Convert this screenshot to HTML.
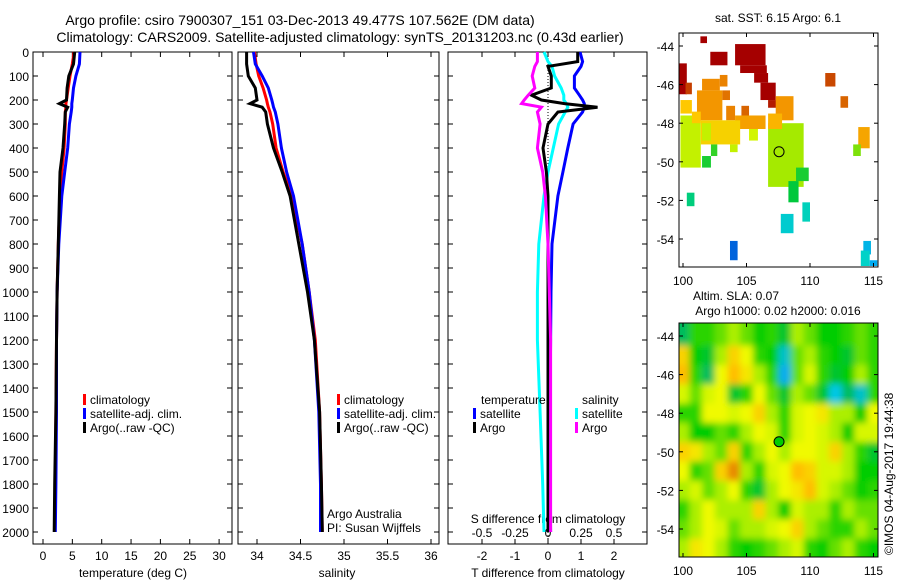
<!DOCTYPE html>
<html><head><meta charset="utf-8"><style>
body{margin:0;background:#fff;}
svg{font-family:"Liberation Sans",sans-serif;}
text{font-size:12px;fill:#000;}
</style></head><body>
<svg id="chart" width="900" height="580" viewBox="0 0 900 580" xmlns="http://www.w3.org/2000/svg">
<defs>
<filter id="blur" x="-5%" y="-5%" width="110%" height="110%"><feGaussianBlur stdDeviation="3.5"/></filter>
<clipPath id="clipSla"><rect x="679" y="323" width="199" height="234"/></clipPath>
<clipPath id="clipSst"><rect x="679" y="33" width="199" height="234"/></clipPath>
</defs>
<text x="300" y="25" text-anchor="middle" style="font-size:14px">Argo profile: csiro 7900307_151 03-Dec-2013 49.477S 107.562E (DM data)</text>
<text x="340" y="42" text-anchor="middle" style="font-size:14px">Climatology: CARS2009. Satellite-adjusted climatology: synTS_20131203.nc (0.43d earlier)</text>
<g id="g"></g>
</svg>
<script>
// depth levels (m)
const depths=[0,50,100,150,200,215,230,250,300,400,500,600,800,1000,1200,1500,1800,2000];
const tempClim=[5.3,5.0,4.6,4.3,4.0,3.9,3.9,3.8,3.8,3.6,3.2,2.9,2.6,2.4,2.3,2.2,2.1,2.0];
const tempSat=[6.3,6.2,5.6,5.2,5.0,4.9,4.9,4.8,4.5,4.2,3.7,3.2,2.7,2.4,2.3,2.3,2.2,2.1];
const tempArgo=[5.4,5.2,4.4,4.1,4.0,2.8,4.2,3.8,3.7,3.4,2.9,2.8,2.6,2.4,2.3,2.2,2.0,1.9];
const salClim=[33.97,33.99,34.02,34.07,34.11,34.12,34.13,34.15,34.18,34.22,34.3,34.4,34.52,34.6,34.67,34.72,34.74,34.75];
const salSat=[33.96,33.98,34.06,34.13,34.17,34.18,34.19,34.21,34.24,34.28,34.34,34.42,34.52,34.6,34.66,34.71,34.73,34.73];
const salArgo=[33.88,33.88,33.9,33.98,34.0,33.92,34.06,34.1,34.12,34.19,34.29,34.38,34.48,34.58,34.66,34.72,34.74,34.75];
// differences from climatology
const diffDepths=[0,40,60,100,150,180,200,215,230,250,300,400,500,600,800,1000,1200,1500,1800,2000];
const tDiffSat=[0.97,1.05,1.0,0.8,0.8,0.95,1.05,1.1,1.1,1.05,0.76,0.6,0.45,0.3,0.12,0.09,0.08,0.06,0.06,0.08];
const tDiffArgo=[0.9,0.9,0.0,0.1,0.1,-0.5,-0.2,0.5,1.5,0.3,0.0,-0.15,-0.05,0.0,0.0,0.0,0.0,0.0,0.0,0.0];
const sDiffSat=[-0.03,0.0,0.03,0.05,0.1,0.12,0.12,0.14,0.15,0.13,0.08,0.04,0.0,-0.03,-0.07,-0.08,-0.08,-0.06,-0.04,-0.03];
const sDiffArgo=[-0.08,-0.08,-0.1,-0.12,-0.1,-0.15,-0.18,-0.2,-0.05,-0.08,-0.06,-0.08,-0.04,-0.02,0.0,0.01,0.02,0.02,0.02,0.02];
const depthTicks=[0,100,200,300,400,500,600,700,800,900,1000,1100,1200,1300,1400,1500,1600,1700,1800,1900,2000];
const tempTicks=[0,5,10,15,20,25,30];
const salTicks=[34,34.5,35,35.5,36];
const tdTicks=[-2,-1,0,1,2];
const sdTicks=[-0.5,-0.25,0,0.25,0.5];
const sdTickLabels=["-0.5","-0.25","0","0.25","0.5"];
const latTicks=[-44,-46,-48,-50,-52,-54];
const lonTicks=[100,105,110,115];
// SST observation blocks: lon0, lon1, latTop, latBot, value(0..1)
const sstCells=[
[106.7,109.5,-48.0,-51.3,0.52],[99.8,101.4,-47.6,-50.3,0.56],
[101.37,101.89,-43.5,-43.85,1],[102.15,103.5,-44.3,-45.0,1],[104.1,106.5,-43.9,-45.0,1],[104.5,106.6,-45.0,-45.4,1],
[105.6,106.7,-45.4,-45.9,1],[106.1,107.3,-45.9,-46.8,1],[106.7,107.6,-46.8,-47.2,0.97],[99.7,100.3,-44.9,-46.5,1],
[100.2,100.7,-45.9,-46.5,0.93],[111.2,112.0,-45.4,-46.1,0.92],[112.4,113.0,-46.6,-47.2,0.88],
[101.5,102.9,-45.7,-46.3,0.8],[102.9,103.5,-45.5,-46.1,0.82],[101.1,103.1,-46.3,-47.85,0.78],[103.1,103.7,-46.3,-46.8,0.85],
[103.4,104.1,-47.1,-47.85,0.82],[104.6,105.2,-47.1,-47.7,0.88],[104.1,106.5,-47.6,-48.3,0.76],[107.3,108.7,-46.6,-47.85,0.78],
[106.7,107.8,-47.5,-48.3,0.72],[99.8,100.7,-46.8,-47.5,0.68],[100.7,101.4,-47.4,-48.0,0.68],[101.4,104.5,-47.85,-49.1,0.66],
[113.8,114.7,-48.2,-49.3,0.75],[101.5,102.2,-48.0,-48.9,0.56],[103.7,104.3,-49.1,-49.5,0.56],
[105.2,105.9,-48.3,-48.9,0.58],[113.4,114.0,-49.1,-49.7,0.48],[102.2,102.7,-49.1,-49.7,0.42],
[101.5,102.2,-49.7,-50.3,0.4],[108.9,109.9,-50.3,-51.0,0.4],[108.3,109.1,-51.0,-52.1,0.38],[100.3,100.9,-51.6,-52.3,0.33],
[109.4,110.0,-52.1,-53.1,0.28],[107.7,108.7,-52.7,-53.7,0.25],[114.2,114.8,-54.1,-54.8,0.18],[114.0,114.7,-54.6,-55.4,0.27],
[103.7,104.3,-54.1,-55.1,0.05],[114.7,115.3,-55.1,-55.4,0.15]];
// SLA grid: rows lat -44..-55 (1 deg), cols lon 100..115
const slaLats=[-44,-45,-46,-47,-48,-49,-50,-51,-52,-53,-54,-55];
const slaLons=[100,101,102,103,104,105,106,107,108,109,110,111,112,113,114,115];
const slaGrid=[
[0.35,0.5,0.5,0.55,0.6,0.55,0.45,0.5,0.4,0.6,0.55,0.45,0.45,0.5,0.55,0.5],
[0.8,0.45,0.4,0.6,0.8,0.7,0.5,0.45,0.2,0.55,0.6,0.5,0.45,0.4,0.55,0.5],
[0.85,0.5,0.35,0.7,0.85,0.75,0.6,0.5,0.1,0.55,0.65,0.5,0.4,0.45,0.6,0.5],
[0.65,0.55,0.65,0.7,0.4,0.5,0.7,0.55,0.4,0.6,0.55,0.4,0.15,0.35,0.2,0.5],
[0.5,0.5,0.7,0.7,0.65,0.7,0.8,0.6,0.5,0.65,0.7,0.75,0.6,0.6,0.45,0.7],
[0.6,0.45,0.45,0.55,0.5,0.6,0.7,0.65,0.5,0.65,0.7,0.65,0.6,0.45,0.65,0.65],
[0.8,0.75,0.6,0.55,0.8,0.5,0.6,0.7,0.6,0.7,0.7,0.65,0.8,0.6,0.5,0.4],
[0.7,0.5,0.55,0.8,0.95,0.6,0.5,0.65,0.7,0.85,0.8,0.65,0.65,0.6,0.45,0.45],
[0.6,0.65,0.55,0.6,0.7,0.5,0.4,0.6,0.7,0.75,0.85,0.65,0.6,0.55,0.45,0.5],
[0.5,0.6,0.7,0.6,0.6,0.6,0.8,0.6,0.45,0.65,0.6,0.6,0.5,0.6,0.55,0.55],
[0.55,0.6,0.7,0.65,0.55,0.6,0.6,0.65,0.7,0.8,0.6,0.55,0.5,0.5,0.6,0.55],
[0.6,0.75,0.7,0.6,0.5,0.45,0.5,0.55,0.6,0.65,0.5,0.45,0.55,0.6,0.5,0.45]];
const argoLon=107.562, argoLat=-49.477;

const NS="http://www.w3.org/2000/svg";
const G=document.getElementById('g');
function el(tag,attrs,parent){const e=document.createElementNS(NS,tag);for(const k in attrs)e.setAttribute(k,attrs[k]);(parent||G).appendChild(e);return e;}
function txt(x,y,s,anchor,parent){const t=el('text',{x:x,y:y,'text-anchor':anchor||'start'},parent);t.textContent=s;return t;}

const TOP=52, BOT=544;
const yD=d=>TOP+d*0.24;
const panels=[
 {x0:33,x1:232,name:'temperature'},
 {x0:238,x1:439,name:'salinity'},
 {x0:448,x1:647,name:'difference'}];
const xT=v=>43+v*5.87;
const xS=v=>257+(v-34)*87;
const xTD=v=>548+v*33;
const xSD=v=>548+v*132;

function line(xs,ds,xf,color,name,w){
 const pts=xs.map((v,i)=>xf(v).toFixed(1)+','+yD(ds[i]).toFixed(1)).join(' ');
 const p=el('polyline',{points:pts,fill:'none',stroke:color,'stroke-width':w||3,'stroke-linejoin':'miter'});
 
 
}
panels.forEach((p,i)=>{
 const r=el('rect',{x:p.x0,y:TOP,width:p.x1-p.x0,height:BOT-TOP,fill:'none',stroke:'#000','stroke-width':1});
 
 
 depthTicks.forEach(d=>{
  el('line',{x1:p.x0,x2:p.x0+5,y1:yD(d),y2:yD(d),stroke:'#000'});
  el('line',{x1:p.x1,x2:p.x1-5,y1:yD(d),y2:yD(d),stroke:'#000'});
 });
});
depthTicks.forEach(d=>{const t=txt(29,yD(d)+5,String(d),'end');
 
 });
function xticks(ticks,xf,labels,ly,top,bot){
 ticks.forEach((v,i)=>{const x=xf(v);
  if(top)el('line',{x1:x,x2:x,y1:TOP,y2:TOP+5,stroke:'#000'});
  if(bot)el('line',{x1:x,x2:x,y1:BOT,y2:BOT-5,stroke:'#000'});
  const t=txt(x,ly,labels?labels[i]:String(v),'middle');
  
  
 });
}
xticks(tempTicks,xT,null,560,true,true);
xticks(salTicks,xS,null,560,true,true);
xticks(tdTicks,xTD,null,560,true,true);
xticks(sdTicks,xSD,sdTickLabels,537,false,false);
let t;
t=txt(133,577,'temperature (deg C)','middle');
t=txt(337,577,'salinity','middle');
t=txt(548,577,'T difference from climatology','middle');
t=txt(548,523,'S difference from climatology','middle');
el('line',{x1:xTD(0),x2:xTD(0),y1:TOP,y2:BOT,stroke:'#000','stroke-dasharray':'1,2'});

line(tempClim,depths,xT,'#f00','temp-climatology-line');
line(tempSat,depths,xT,'#00f','temp-satellite-line');
line(tempArgo,depths,xT,'#000','temp-argo-line');
line(salClim,depths,xS,'#f00','sal-climatology-line');
line(salSat,depths,xS,'#00f','sal-satellite-line');
line(salArgo,depths,xS,'#000','sal-argo-line');
line(tDiffSat,diffDepths,xTD,'#00f','t-diff-satellite-line');
line(sDiffSat,diffDepths,xSD,'#0ff','s-diff-satellite-line');
line(tDiffArgo,diffDepths,xTD,'#000','t-diff-argo-line');
line(sDiffArgo,diffDepths,xSD,'#f0f','s-diff-argo-line');

function legend(x,y,color,label,name){
 const g=el('g',{});
 
 
 el('rect',{x:x,y:y-10,width:3,height:11,fill:color},g);
 txt(x+7,y,label,'start',g);
}
legend(83,404,'#f00','climatology','legend-climatology');
legend(83,418,'#00f','satellite-adj. clim.','legend-satellite-adj');
legend(83,432,'#000','Argo(..raw -QC)','legend-argo');
legend(337,404,'#f00','climatology','legend-sal-climatology');
legend(337,418,'#00f','satellite-adj. clim.','legend-sal-satellite-adj');
legend(337,432,'#000','Argo(..raw -QC)','legend-sal-argo');
t=txt(481,404,'temperature');
t=txt(582,404,'salinity');
legend(473,418,'#00f','satellite','legend-t-satellite');
legend(473,432,'#000','Argo','legend-t-argo');
legend(575,418,'#0ff','satellite','legend-s-satellite');
legend(575,432,'#f0f','Argo','legend-s-argo');
t=txt(327,518,'Argo Australia');
t=txt(327,532,'PI: Susan Wijffels');

// maps
const mX=lon=>683+(lon-100)*12.7;
function cmapSst(v){const s=[[0,[0,64,210]],[0.15,[0,170,240]],[0.27,[0,210,200]],[0.38,[0,200,60]],[0.5,[150,230,0]],[0.58,[210,245,0]],[0.68,[255,200,0]],[0.8,[240,140,0]],[0.9,[210,90,0]],[1,[165,0,0]]];return interp(s,v);}
function cmapSla(v){const s=[[0,[0,120,255]],[0.15,[0,200,230]],[0.3,[0,180,140]],[0.45,[0,205,0]],[0.52,[60,215,0]],[0.62,[200,245,0]],[0.7,[240,250,0]],[0.85,[255,190,0]],[1,[220,110,0]]];return interp(s,v);}
function interp(s,v){for(let i=1;i<s.length;i++){if(v<=s[i][0]){const a=s[i-1],b=s[i],f=(v-a[0])/(b[0]-a[0]);return 'rgb('+a[1].map((c,k)=>Math.round(c+f*(b[1][k]-c))).join(',')+')';}}return 'rgb('+s[s.length-1][1].join(',')+')';}
function mapFrame(top,name){
 const mY=lat=>top+13+(-44-lat)*19.3;
 const r=el('rect',{x:679,y:top,width:199,height:234,fill:'none',stroke:'#000'});
 
 
 latTicks.forEach(l=>{el('line',{x1:679,x2:683,y1:mY(l),y2:mY(l),stroke:'#000'});el('line',{x1:878,x2:874,y1:mY(l),y2:mY(l),stroke:'#000'});
  const tt=txt(674,mY(l)+5,String(l),'end');});
 lonTicks.forEach(l=>{el('line',{x1:mX(l),x2:mX(l),y1:top,y2:top+4,stroke:'#000'});el('line',{x1:mX(l),x2:mX(l),y1:top+234,y2:top+230,stroke:'#000'});
  const tt=txt(mX(l),top+252,String(l),'middle');});
}
const sstG=el('g',{'clip-path':'url(#clipSst)'});
const yS=lat=>33+13+(-44-lat)*19.3;
sstCells.forEach(c=>{
 const r=el('rect',{x:mX(c[0]),y:yS(c[2]),width:mX(c[1])-mX(c[0]),height:yS(c[3])-yS(c[2]),fill:cmapSst(c[4])},sstG);
 
 
});
mapFrame(33,'sst-map');
el('circle',{cx:mX(argoLon),cy:yS(argoLat),r:5,fill:'none',stroke:'#000','stroke-width':1});
t=txt(778,22,'sat. SST: 6.15 Argo: 6.1','middle');
const slaClip=el('g',{'clip-path':'url(#clipSla)'});
const slaG=el('g',{filter:'url(#blur)'},slaClip);
const yA=lat=>323+13+(-44-lat)*19.3;
el('rect',{x:660,y:300,width:240,height:280,fill:cmapSla(0.55)},slaG);
slaGrid.forEach((row,i)=>row.forEach((v,j)=>{
 const lat=slaLats[i],lon=slaLons[j];
 const r=el('rect',{x:mX(lon-0.5)-(j==0?15:0),y:yA(lat+0.5)-(i==0?15:0),width:12.7+1+(j==0||j==row.length-1?15:0),height:19.3+1+(i==0||i==slaGrid.length-1?15:0),fill:cmapSla(v)},slaG);
 
 
}));
mapFrame(323,'sla-map');
el('circle',{cx:mX(argoLon),cy:yA(argoLat),r:5,fill:'#0c0',stroke:'#000','stroke-width':1});
t=txt(736,300,'Altim. SLA: 0.07','middle');
t=txt(778,315,'Argo h1000: 0.02 h2000: 0.016','middle');
t=el('text',{x:0,y:0,transform:'translate(893,555) rotate(-90)'});t.textContent='©IMOS 04-Aug-2017 19:44:38';

</script>
</body></html>
